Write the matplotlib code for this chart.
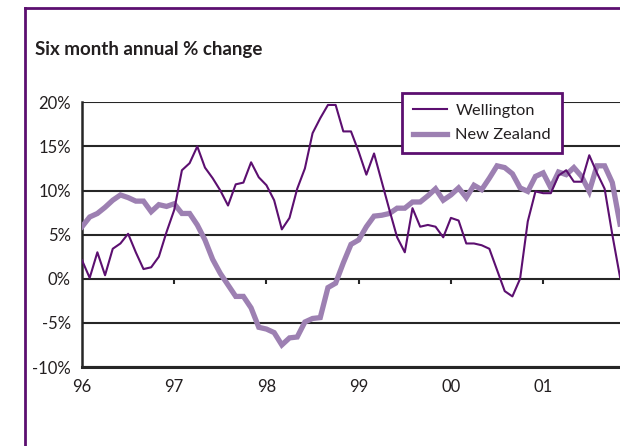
import numpy as np
import matplotlib.pyplot as plt
from matplotlib.lines import Line2D

plt.rcParams['font.family'] = ['Lato', 'DejaVu Sans']

# Monthly values, Jan 1996 onwards (% change)
wellington = [2.1, 0.1, 3.0, 0.4, 3.4, 4.0, 5.1, 3.0, 1.1, 1.3, 2.5, 5.3,
              7.8, 12.3, 13.1, 15.0, 12.6, 11.4, 10.0, 8.3, 10.7, 10.9, 13.2, 11.5,
              10.6, 8.9, 5.6, 6.9, 10.2, 12.5, 16.5, 18.2, 19.7, 19.7, 16.7, 16.7,
              14.4, 11.8, 14.2, 11.0, 7.8, 4.7, 3.0, 8.0, 5.9, 6.1, 5.9, 4.7,
              6.9, 6.6, 4.0, 4.0, 3.8, 3.4, 1.0, -1.4, -2.0, 0.0, 6.5, 9.9,
              9.7, 9.7, 11.7, 12.3, 11.0, 11.0, 14.0, 12.0, 10.2, 5.0, 0.2]
new_zealand = [5.9, 7.0, 7.4, 8.1, 8.9, 9.5, 9.2, 8.8, 8.8, 7.6, 8.4, 8.2,
               8.5, 7.4, 7.4, 6.1, 4.4, 2.2, 0.6, -0.7, -2.0, -2.0, -3.3, -5.5,
               -5.7, -6.1, -7.5, -6.7, -6.6, -4.9, -4.5, -4.4, -1.0, -0.5, 1.8, 3.9,
               4.4, 5.9, 7.1, 7.2, 7.4, 8.0, 8.0, 8.7, 8.7, 9.4, 10.2, 8.9,
               9.5, 10.3, 9.2, 10.6, 10.1, 11.4, 12.8, 12.6, 11.9, 10.3, 9.9, 11.6,
               12.0, 10.3, 12.1, 11.8, 12.6, 11.6, 9.9, 12.8, 12.8, 10.9, 6.2]
year_labels = ['96', '97', '98', '99', '00', '01']
y_ticks = [-10, -5, 0, 5, 10, 15, 20]

months = np.arange(len(wellington))
year_pos = np.arange(len(year_labels)) * 12

dark = '#5c0f70'
light = '#9d80b2'
grid = '#262626'
txt = '#231f20'

fig = plt.figure(figsize=(6.2, 4.46), dpi=100)
ax = fig.add_axes([82 / 620, 79 / 446, 538 / 620, 264.7 / 446])

for v in y_ticks:
    ax.axhline(v, color=grid, lw=1.5, zorder=1)

ax.plot(months, new_zealand, color=light, lw=3.8, label='New Zealand',
        solid_joinstyle='miter', zorder=3)
ax.plot(months, wellington, color=dark, lw=1.5, label='Wellington', zorder=4)

# little ticks hanging off the 0% line
ax.vlines(year_pos[1:], -0.6, 0, color=grid, lw=1.5, zorder=2)

ax.set_xlim(0, len(wellington) - 1)
ax.set_ylim(-10, 20)
ax.set_yticks(y_ticks)
ax.set_yticklabels([f'{v}%' for v in y_ticks])
ax.set_xticks(year_pos)
ax.set_xticklabels(year_labels)
ax.tick_params(axis='both', length=0, labelsize=12, labelcolor=txt)
ax.tick_params(axis='y', pad=8)
ax.tick_params(axis='x', pad=9)
for s in ['top', 'right']:
    ax.spines[s].set_visible(False)
ax.spines['left'].set_color(grid)
ax.spines['left'].set_linewidth(1.8)
ax.spines['bottom'].set_color(grid)
ax.spines['bottom'].set_linewidth(2.2)

h, l = ax.get_legend_handles_labels()
leg = ax.legend(h[::-1], l[::-1], loc='upper left',
                bbox_to_anchor=(402 / 620, 1 - 93 / 446),
                bbox_transform=fig.transFigure, borderaxespad=0,
                fontsize=11.8, handlelength=2.1, handletextpad=0.5,
                labelspacing=0.6, borderpad=0.65, fancybox=False,
                framealpha=1, facecolor='white', edgecolor=dark)
leg.get_frame().set_linewidth(2)
leg.set_zorder(10)
for t in leg.get_texts():
    t.set_color(txt)

fig.text(35 / 620, 1 - 55 / 446, 'Six month annual % change', fontsize=13.5,
         fontweight='bold', color=txt, va='baseline', ha='left')

# outer purple frame (left and top edges)
fig.add_artist(Line2D([25 / 620, 25 / 620], [0, 1 - 8 / 446],
                      transform=fig.transFigure, color=dark, lw=2))
fig.add_artist(Line2D([25 / 620, 1], [1 - 8 / 446, 1 - 8 / 446],
                      transform=fig.transFigure, color=dark, lw=2))

fig.savefig('out.png', dpi=100)
